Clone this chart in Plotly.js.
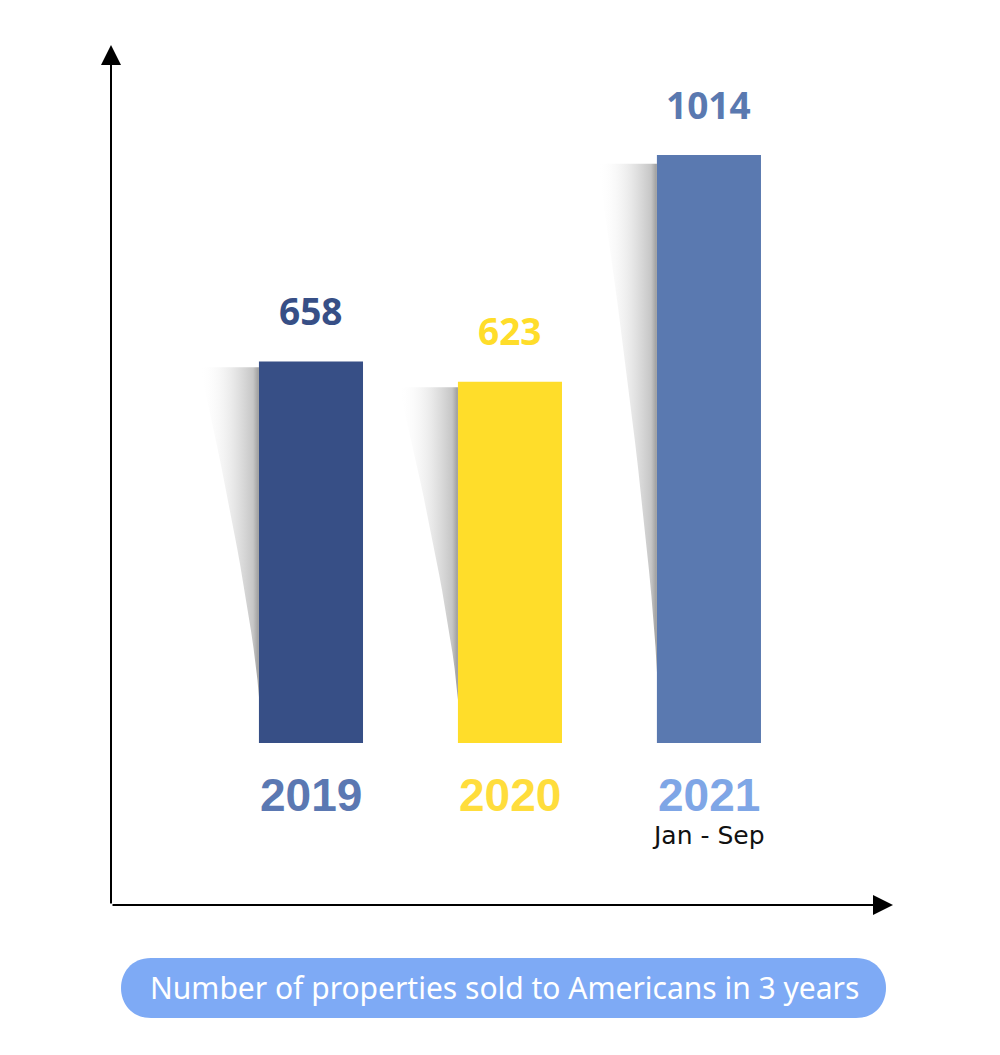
<!DOCTYPE html>
<html>
<head>
<meta charset="utf-8">
<script src="https://cdn.plot.ly/plotly-3.0.1.min.js"></script>
<style>html,body{margin:0;padding:0;background:#fff;}#chart{width:1000px;height:1055px;}</style>
</head>
<body>
<div id="chart"></div>
<script>
// ---- data ----
const years = ["2019", "2020", "2021"];
const subLabels = ["", "", "Jan - Sep"];
const sold = [658, 623, 1014];
const barColors = ["#374f86", "#ffdd2a", "#5a79b0"];
const valueColors = ["#374f86", "#ffdd2a", "#5a79b0"];
const yearColors = ["#5b78b2", "#ffdd3c", "#7fa6e6"];
const chartTitle = "Number of properties sold to Americans in 3 years";

// ---- layout geometry ----
const W = 1000, H = 1055;
const M = {l: 111, r: 107, t: 45, b: 150};
const plotW = W - M.l - M.r, plotH = H - M.t - M.b;
const px2x = p => (p - M.l) / plotW;
const py2y = p => (H - M.b - p) / plotH;

const xIdx = years.map((_, i) => i);
const barWidth = 0.523;
const shadowReach = 0.296;

const traces = [];
// shadows to the left of each bar
xIdx.forEach((i) => {
  const x0 = i - barWidth / 2;
  const v = sold[i];
  const xs = [], ys = [];
  const n = 20;
  for (let k = 0; k <= n; k++) {
    const t = k / n;
    xs.push(x0 - shadowReach * Math.pow(1 - t, 1.25));
    ys.push(v * (0.985 - 0.865 * t));
  }
  xs.push(x0); ys.push(v * 0.12);
  xs.push(x0); ys.push(v * 0.985);
  traces.push({
    type: "scatter", mode: "lines", x: xs, y: ys,
    fill: "toself", line: {width: 0, color: "rgba(0,0,0,0)"},
    fillgradient: {type: "horizontal", colorscale: [[0, "rgba(255,255,255,0)"], [0.55, "rgba(228,228,228,0.8)"], [0.9, "rgba(195,195,195,0.95)"], [1, "rgba(155,155,155,1)"]]},
    hoverinfo: "skip", showlegend: false
  });
});

traces.push({
  type: "bar", x: xIdx, y: sold, width: barWidth,
  marker: {color: barColors, line: {width: 0}},
  hoverinfo: "x+y", showlegend: false
});

const annotations = [];
xIdx.forEach((i) => {
  annotations.push({
    x: i, y: sold[i], xref: "x", yref: "y", yanchor: "middle", yshift: 51,
    text: "<b>" + sold[i] + "</b>", showarrow: false,
    font: {family: "Open Sans", size: 37, color: valueColors[i]}
  });
  annotations.push({
    x: i, y: 0, xref: "x", yref: "y", yanchor: "middle", yshift: -52,
    text: "<b>" + years[i] + "</b>", showarrow: false,
    font: {family: "Liberation Sans", size: 46, color: yearColors[i]}
  });
  if (subLabels[i]) {
    annotations.push({
      x: i, y: 0, xref: "x", yref: "y", yanchor: "middle", yshift: -93,
      text: subLabels[i], showarrow: false,
      font: {family: "DejaVu Sans", size: 25, color: "#111"}
    });
  }
});
// axis arrows
annotations.push({
  x: 0, y: 1, xref: "paper", yref: "paper", ax: 0, ay: plotH, axref: "pixel", ayref: "pixel",
  showarrow: true, arrowhead: 2, arrowwidth: 2, arrowsize: 2.0, arrowcolor: "#000", text: ""
});
annotations.push({
  x: 1, y: 0, xref: "paper", yref: "paper", ax: -plotW, ay: 0, axref: "pixel", ayref: "pixel",
  showarrow: true, arrowhead: 2, arrowwidth: 2, arrowsize: 2.0, arrowcolor: "#000", text: ""
});
// title pill text
annotations.push({
  x: px2x(504), y: py2y(988), xref: "paper", yref: "paper", xanchor: "center", yanchor: "middle",
  text: chartTitle, showarrow: false,
  font: {family: "Noto Sans", size: 30, color: "#ffffff"}
});

const pill = [[151, 958], [856, 958], [896, 958], [896, 1018], [856, 1018], [151, 1018], [111, 1018], [111, 958]];
const P = pill.map(([a, b]) => px2x(a).toFixed(5) + "," + py2y(b).toFixed(5));
const pillPath = `M${P[0]} L${P[1]} C${P[2]} ${P[3]} ${P[4]} L${P[5]} C${P[6]} ${P[7]} ${P[0]} Z`;

const layout = {
  width: W, height: H,
  margin: M,
  paper_bgcolor: "#ffffff", plot_bgcolor: "#ffffff",
  xaxis: {range: [-1.005, 2.925], showgrid: false, zeroline: false, showticklabels: false, ticks: "", showline: false, fixedrange: true},
  yaxis: {range: [-279.4, 1203.7], showgrid: false, zeroline: false, showticklabels: false, ticks: "", showline: false, fixedrange: true},
  shapes: [{type: "path", xref: "paper", yref: "paper", path: pillPath, fillcolor: "#7eaaf5", line: {width: 0}, layer: "below"}],
  annotations: annotations,
  showlegend: false
};

Plotly.newPlot("chart", traces, layout, {displayModeBar: false, staticPlot: true});
</script>
</body>
</html>
